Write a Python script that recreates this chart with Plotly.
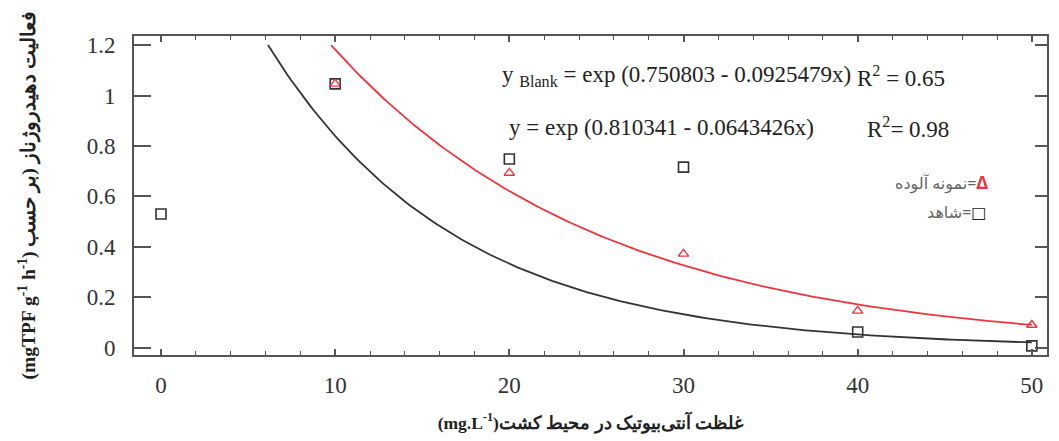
import numpy as np
import plotly.graph_objects as go

# ---- data ----
conc_blank = [0, 10, 20, 30, 40, 50]
act_blank = [0.530, 1.046, 0.748, 0.716, 0.062, 0.007]
conc_cont = [10, 20, 30, 40, 50]
act_cont = [1.046, 0.693, 0.372, 0.146, 0.090]

# fitted exponential models shown on the chart: y = exp(a - b x)
fit_blank_a, fit_blank_b = 0.750803, 0.0925479
fit_cont_a, fit_cont_b = 0.810341, 0.0643426
fit_ymax = 1.2

x_ticks = [0, 10, 20, 30, 40, 50]
y_ticks = [0, 0.2, 0.4, 0.6, 0.8, 1, 1.2]
y_ticklabels = ["0", "0.2", "0.4", "0.6", "0.8", "1", "1.2"]
y_range = [-0.029, 1.236]

BLACK = "#333333"
RED = "#f0343c"
AX = "#555555"
SERIF = "Liberation Serif, Times New Roman, serif"
SANS = "Noto Sans, DejaVu Sans, sans-serif"
LRM = "\u200e"


def fit_curve(a, b):
    x0 = (a - np.log(fit_ymax)) / b
    xs = np.linspace(x0, 50, 200)
    return xs, np.exp(a - b * xs)


fig = go.Figure()
xb, yb = fit_curve(fit_blank_a, fit_blank_b)
xc, yc = fit_curve(fit_cont_a, fit_cont_b)
fig.add_trace(go.Scatter(x=xb, y=yb, mode="lines", line=dict(color=BLACK, width=1.8),
                         showlegend=False, hoverinfo="skip", yaxis="y2"))
fig.add_trace(go.Scatter(x=xc, y=yc, mode="lines", line=dict(color=RED, width=1.8),
                         showlegend=False, hoverinfo="skip"))
fig.add_trace(go.Scatter(x=conc_blank, y=act_blank, mode="markers",
                         marker=dict(symbol="square-open", size=10, color=BLACK,
                                     line=dict(width=1.6, color=BLACK)),
                         showlegend=False))
fig.add_trace(go.Scatter(x=conc_cont, y=act_cont, mode="markers",
                         marker=dict(symbol="triangle-up-open", size=9, color=RED,
                                     line=dict(width=1.4, color=RED)),
                         showlegend=False))

EQ = dict(family=SERIF, size=23, color="#222")
annots = [
    dict(x=19.46, y=1.077, text="y <sub>Blank</sub> = exp (0.750803 - 0.0925479x)", font=EQ),
    dict(x=39.85, y=1.077, text="R<sup>2</sup> = 0.65", font=EQ),
    dict(x=19.86, y=0.875, text="y = exp (0.810341 - 0.0643426x)", font=EQ),
    dict(x=40.4, y=0.875, text="R<sup>2</sup>= 0.98", font=EQ),
    dict(x=42.0, y=0.657,
         text=LRM + "نمونه آلوده=<span style='color:" + RED + "; font-size:17px'><b>Δ</b></span>",
         font=dict(family=SANS, size=16, color="#666")),
    dict(x=43.86, y=0.538,
         text=LRM + "شاهد=<span style='color:#222'>□</span>",
         font=dict(family=SANS, size=16, color="#666")),
]
for a in annots:
    fig.add_annotation(xref="x", yref="y", showarrow=False, xanchor="left",
                       yanchor="middle", **a)

fig.update_layout(
    width=1059, height=441,
    margin=dict(l=134, r=12, t=36, b=86, autoexpand=False),
    paper_bgcolor="white", plot_bgcolor="white",
    font=dict(family=SERIF, size=23, color="#333"),
    xaxis=dict(range=[-1.55, 50.87], tickvals=x_ticks, ticks="inside", ticklen=6,
               tickwidth=1.5, tickcolor=AX, mirror="ticks", showline=True,
               linecolor=AX, linewidth=2, showgrid=False, zeroline=False,
               ticklabelstandoff=8, automargin=False,
               minor=dict(dtick=2, ticks="inside", ticklen=4, tickcolor=AX, tickwidth=1.2),
               title=dict(text="<b>(mg.L<sup>-1</sup>)غلظت آنتی‌بیوتیک در محیط کشت</b>",
                          font=dict(family=SERIF, size=17.5, color="#222"), standoff=20)),
    yaxis=dict(range=y_range, tickvals=y_ticks, ticktext=y_ticklabels,
               ticks="inside", ticklen=17, tickwidth=1.5, tickcolor=AX,
               mirror=True, showline=True, linecolor=AX, linewidth=2,
               showgrid=False, zeroline=False, ticklabelstandoff=12, automargin=False,
               title=dict(text="<b>(mgTPF g<sup>-1</sup> h<sup>-1</sup>) فعالیت دهیدروژناز (بر حسب</b>",
                          font=dict(family=SERIF, size=19.5, color="#222"), standoff=46)),
    yaxis2=dict(range=y_range, overlaying="y", side="right", anchor="x", tickvals=y_ticks,
                ticks="inside", ticklen=12, tickwidth=1.5, tickcolor=AX,
                showticklabels=False, showgrid=False, zeroline=False, showline=True,
                linecolor=AX, linewidth=2, automargin=False),
)

fig.write_html("out.html", config={"displayModeBar": False},
               post_script="document.documentElement.style.overflow='hidden';document.body.style.margin='0';document.body.style.overflow='hidden';")
